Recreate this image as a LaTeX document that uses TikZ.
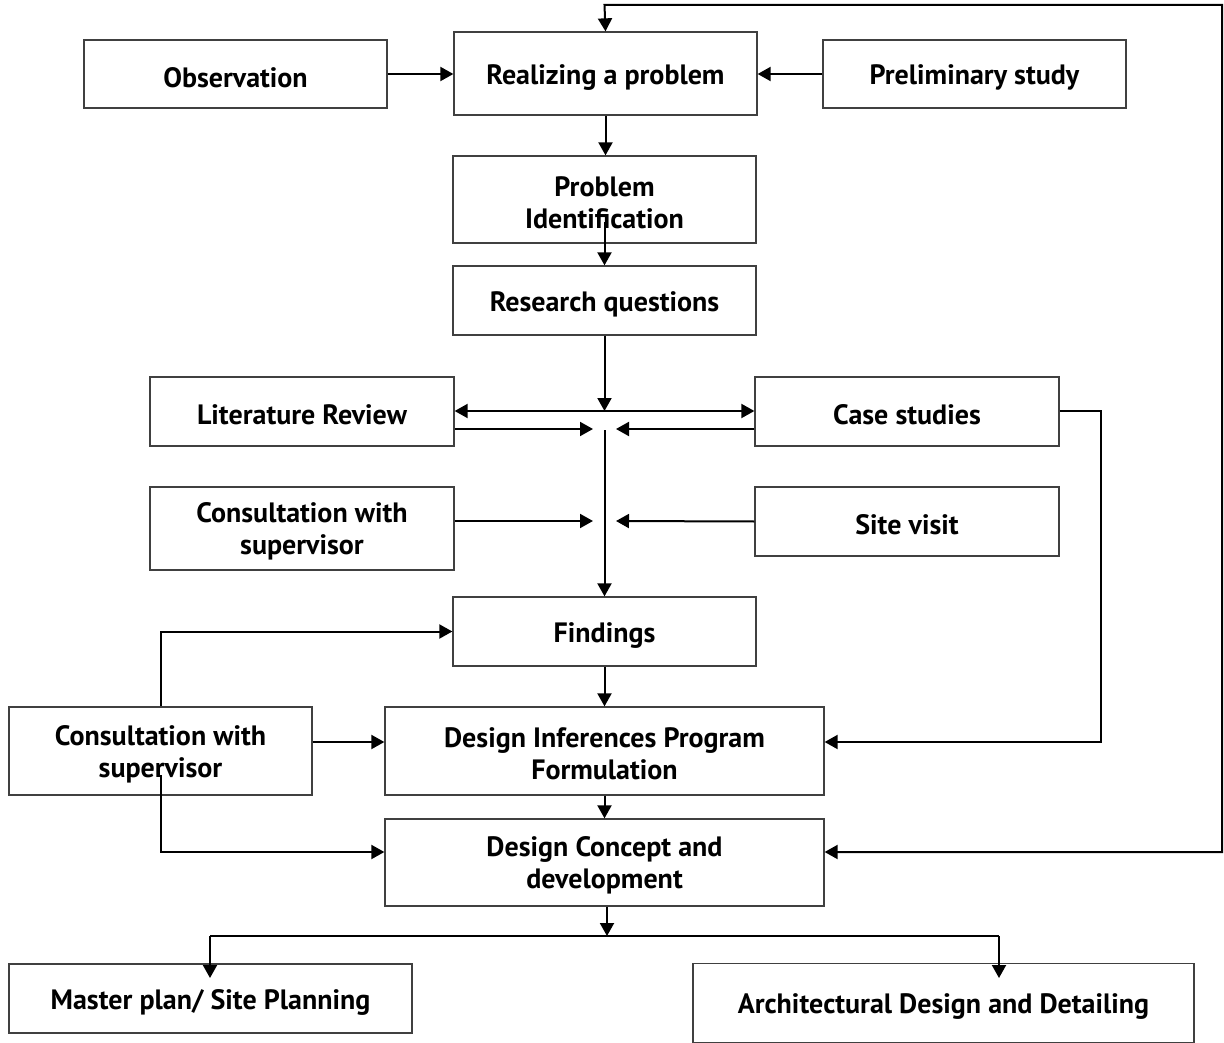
\documentclass[tikz,border=0pt]{standalone}
\usepackage{fontspec}
\setmainfont{PT Sans}
\usetikzlibrary{arrows.meta,calc}
\tikzset{
  box/.style={draw=black!75, line width=1.3pt, rectangle, inner sep=0pt, align=center,
    font=\fontsize{28}{32}\selectfont\bfseries, text height=27pt},
  two/.style={text height=58pt},
  arr/.style={draw=black, line width=2pt, -{Triangle[length=13pt,width=14pt]}},
  arrb/.style={draw=black, line width=2pt, {Triangle[length=13pt,width=14pt]}-{Triangle[length=13pt,width=14pt]}},
  ln/.style={draw=black, line width=2pt}
}
\begin{document}
\begin{tikzpicture}[x=1pt,y=-1pt]
\useasboundingbox (0,0) rectangle (1224,1043);
\fill[white] (0,0) rectangle (1224,1043);
\node[box, minimum width=303pt, minimum height=68pt] (obs) at (235.5,74) {Observation};
\node[box, minimum width=303pt, minimum height=83pt] (real) at (605.5,73.5) {Realizing a problem};
\node[box, minimum width=303pt, minimum height=68pt] (prel) at (974.5,74) {Preliminary study};
\node[box, two, minimum width=303pt, minimum height=87pt] (pid) at (604.5,199.5) {Problem\\Identification};
\node[box, minimum width=303pt, minimum height=69pt] (rq) at (604.5,300.5) {Research questions};
\node[box, minimum width=304pt, minimum height=69pt] (lit) at (302,411.5) {Literature Review};
\node[box, minimum width=304pt, minimum height=69pt] (case) at (907,411.5) {Case studies};
\node[box, two, minimum width=304pt, minimum height=83pt] (cons1) at (302,528.5) {Consultation with\\supervisor};
\node[box, minimum width=304pt, minimum height=69pt] (site) at (907,521.5) {Site visit};
\node[box, minimum width=303pt, minimum height=69pt] (find) at (604.5,631.5) {Findings};
\node[box, two, minimum width=303pt, minimum height=88pt] (cons2) at (160.5,751) {Consultation with\\supervisor};
\node[box, two, minimum width=439pt, minimum height=88pt] (dif) at (604.5,751) {Design Inferences Program\\Formulation};
\node[box, two, minimum width=439pt, minimum height=87pt] (dcd) at (604.5,862.5) {Design Concept and\\development};
\node[box, minimum width=403pt, minimum height=69pt] (mp) at (210.5,998.5) {Master plan/ Site Planning};
\node[box, minimum width=501pt, minimum height=79pt] (arch) at (943.5,1003) {Architectural Design and Detailing};

\coordinate (pidin) at (604.5,222);
\coordinate (j1) at (604.5,411);
\coordinate (jl) at (593,429);
\coordinate (jr) at (616,429);
\coordinate (jv) at (604.5,430);
\coordinate (jl2) at (593,521);
\coordinate (jr2) at (616,521);
\coordinate (top) at (604.5,5);
\coordinate (rt) at (1222,852);
\coordinate (cs) at (1101,411);
\coordinate (c2in) at (160.5,775);
\coordinate (c2b) at (160.5,852);
\coordinate (split) at (607,936);
\coordinate (sl) at (210,936);
\coordinate (sr) at (999,936);
\coordinate (mpt) at (210,978);
\coordinate (art) at (999,978);

\draw[arr] (obs.east) -- (real.west |- obs.east);
\draw[arr] (prel.west) -- (real.east |- prel.west);
\draw[arr] (real.south) -- (real.south |- pid.north);
\draw[arr] (pidin) -- (rq.north);
\draw[arr] (rq.south) -- (j1);
\draw[arrb] (lit.east |- j1) -- (case.west |- j1);
\draw[arr] (lit.east |- jl) -- (jl);
\draw[arr] (case.west |- jr) -- (jr);
\draw[arr] (jv) -- (find.north);
\draw[arr] (cons1.east |- jl2) -- (jl2);
\draw[arr] (site.west) -- (jr2);
\draw[arr] (find.south) -- (dif.north);
\draw[arr] (dif.south) -- (dcd.north);
\draw[arr] (case.east |- cs) -- (cs) |- ([yshift=9pt]dif.east);
\draw[arrb] (real.north) -- (top) -| (rt) -- ([yshift=10.5pt]dcd.east);
\draw[arr] (cons2.north) |- (find.west);
\draw[arr] ([yshift=9pt]cons2.east) -- ([yshift=9pt]dif.west);
\draw[arr] (c2in) -- (c2b) -- ([yshift=10.5pt]dcd.west);
\draw[arr] (dcd.south -| split) -- (split);
\draw[ln] (sl) -- (sr);
\draw[arr] (sl) -- (mpt);
\draw[arr] (sr) -- (art);
\end{tikzpicture}
\end{document}
